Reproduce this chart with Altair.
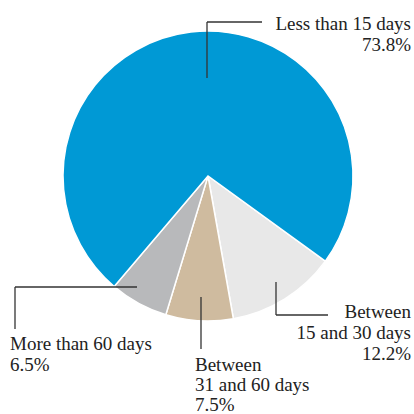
import altair as alt
import pandas as pd

# Share of cases by duration
categories = ["Between 15 and 30 days", "Between 31 and 60 days", "More than 60 days", "Less than 15 days"]
shares = [12.2, 7.5, 6.5, 73.8]
colors = ["#e8e8e8", "#cfbb9f", "#b8b9bb", "#0099d5"]

pie = pd.DataFrame({"category": categories, "share": shares, "order": [0, 1, 2, 3]})

# Annotation layout (pixel positions of leader lines and label text)
leader_segments = pd.DataFrame({
    "x":  [207, 207, 276, 276, 201, 137, 15],
    "y":  [78, 22, 282, 315, 297, 287, 287],
    "x2": [207, 262, 276, 328, 201, 15, 15],
    "y2": [22, 22, 315, 315, 349, 287, 329],
})

label_lines = pd.DataFrame({
    "text": ["Less than 15 days", "73.8%",
             "Between", "15 and 30 days", "12.2%",
             "Between", "31 and 60 days", "7.5%",
             "More than 60 days", "6.5%"],
    "x": [411, 411, 411, 411, 411, 195, 195, 195, 10, 10],
    "y": [30, 51, 318, 339, 360, 371, 391, 411, 350, 371],
    "align": ["right"] * 5 + ["left"] * 5,
})

start = 2.199  # radians, clockwise from 12 o'clock
arc = alt.Chart(pie).mark_arc(
    outerRadius=145, stroke="white", strokeWidth=1.5
).encode(
    theta=alt.Theta("share:Q", stack=True, scale=alt.Scale(range=[start, start + 6.283185])),
    order=alt.Order("order:Q"),
    color=alt.Color("category:N", scale=alt.Scale(domain=categories, range=colors), legend=None),
    x=alt.value(208),
    y=alt.value(176),
)

leaders = alt.Chart(leader_segments).mark_rule(color="#333333", strokeWidth=1.3).encode(
    x=alt.X("x:Q", scale=alt.Scale(domain=[0, 414], range=[0, 414]), axis=None),
    x2="x2:Q",
    y=alt.Y("y:Q", scale=alt.Scale(domain=[0, 414], range=[0, 414]), axis=None),
    y2="y2:Q",
)

def text_layer(align):
    return alt.Chart(label_lines[label_lines["align"] == align]).mark_text(
        align=align, baseline="alphabetic", font="Liberation Serif", fontSize=19, color="#222222"
    ).encode(
        x=alt.X("x:Q", scale=alt.Scale(domain=[0, 414], range=[0, 414]), axis=None),
        y=alt.Y("y:Q", scale=alt.Scale(domain=[0, 414], range=[0, 414]), axis=None),
        text="text:N",
    )

chart = alt.layer(arc, leaders, text_layer("right"), text_layer("left")).properties(
    width=414, height=414, padding=0, autosize=alt.AutoSizeParams(type="none")
).configure_view(stroke=None)

chart.save("out.html", embed_options={"renderer": "svg", "actions": False})
